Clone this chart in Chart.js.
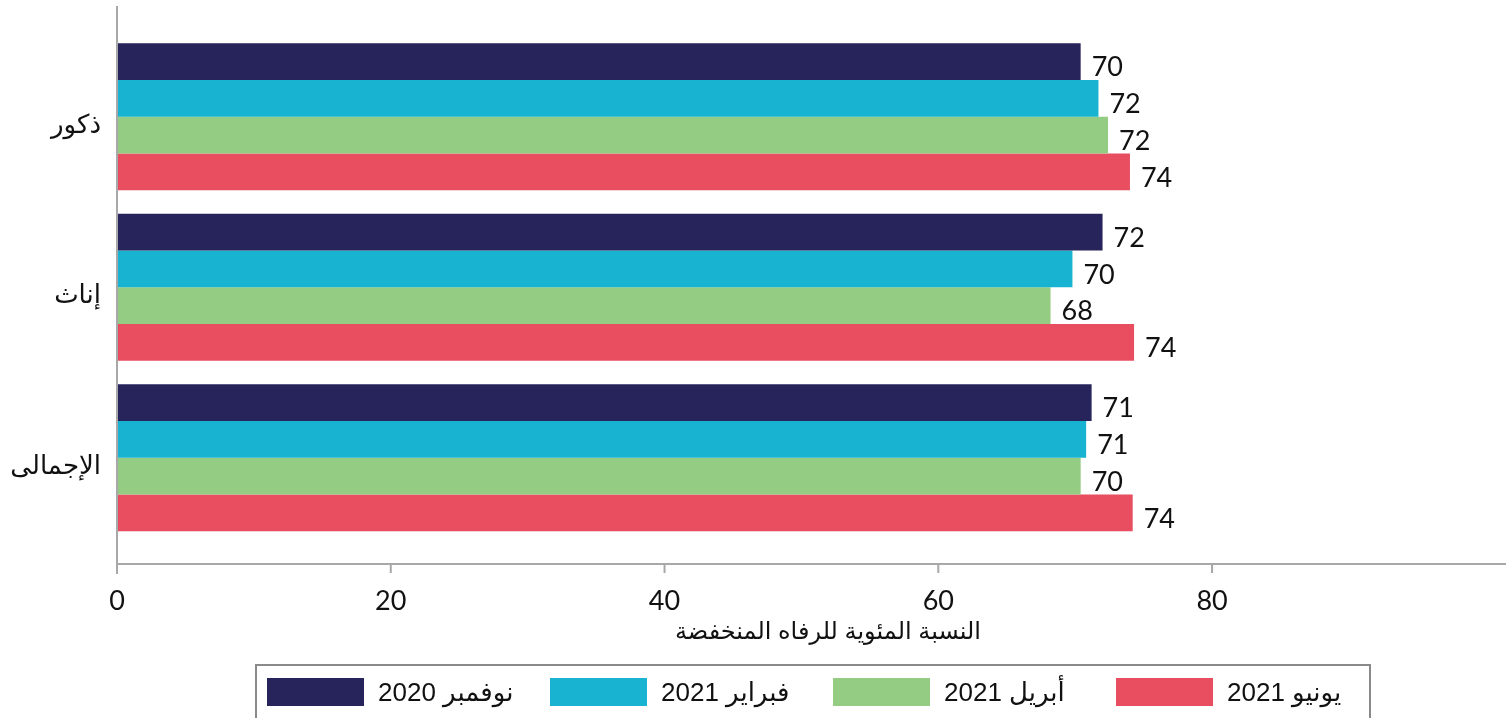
<!DOCTYPE html>
<html lang="ar">
<head>
<meta charset="utf-8">
<script src="https://cdn.jsdelivr.net/npm/chart.js@4.4.1/dist/chart.umd.min.js"></script>
<style>
  html, body { margin: 0; padding: 0; background: #fff; }
  #wrap { position: relative; width: 1506px; height: 718px; overflow: hidden; }
  #legend {
    position: absolute; left: 255px; top: 664px; width: 1116px; height: 70px;
    border: 2px solid #8a8a8a; box-sizing: border-box;
  }
  .item { position: absolute; top: 12px; height: 28px; display: flex; align-items: center; }
  .swatch { width: 97px; height: 28px; margin-right: 14px; }
  .item span { font: 26px "Liberation Sans", "DejaVu Sans", sans-serif; color: #111; white-space: nowrap; }
</style>
</head>
<body>
<div id="wrap">
  <canvas id="welfareChart" width="1506" height="718"></canvas>
  <div id="legend"></div>
</div>
<script>
// Categories (top to bottom)
const groups = ['ذكور', 'إناث', 'الإجمالى'];

// Survey rounds
const rounds = ['نوفمبر 2020', 'فبراير 2021', 'أبريل 2021', 'يونيو 2021'];
const roundColors = ['#27245b', '#17b3d0', '#93cc82', '#e84d60'];

// Percentage with low welfare, per round (ذكور, إناث, الإجمالى)
const nov2020 = [70.4, 72.0, 71.2];
const feb2021 = [71.7, 69.8, 70.8];
const apr2021 = [72.4, 68.2, 70.4];
const jun2021 = [74.0, 74.3, 74.2];

const xTicks = [0, 20, 40, 60, 80];
const axisTitle = 'النسبة المئوية للرفاه المنخفضة';

const seriesValues = [nov2020, feb2021, apr2021, jun2021];

const numFont = '27px Lato, "Open Sans", sans-serif';
const arFont = '24px "Liberation Sans", "DejaVu Sans", sans-serif';

// axis lines, tick marks, axis title and value labels
const decorations = {
  id: 'decorations',
  afterDatasetsDraw(chart) {
    const ctx = chart.ctx;
    const x = chart.scales.x;
    const area = chart.chartArea;
    const x0 = x.getPixelForValue(0);
    const axisY = area.bottom + 21;

    ctx.save();
    ctx.strokeStyle = '#a8a8a8';
    ctx.lineWidth = 2;
    ctx.beginPath();
    ctx.moveTo(x0, 6);
    ctx.lineTo(x0, axisY + 10);
    ctx.moveTo(x0, axisY);
    ctx.lineTo(area.right + 2, axisY);
    xTicks.forEach(v => {
      if (v === 0) return;
      const px = x.getPixelForValue(v);
      ctx.moveTo(px, axisY);
      ctx.lineTo(px, axisY + 9);
    });
    ctx.stroke();

    // value labels
    ctx.fillStyle = '#111';
    ctx.font = numFont;
    ctx.textAlign = 'left';
    ctx.textBaseline = 'middle';
    chart.data.datasets.forEach((ds, i) => {
      chart.getDatasetMeta(i).data.forEach((bar, j) => {
        ctx.fillText(String(Math.round(ds.data[j])), bar.x + 11, bar.y + 6);
      });
    });

    // axis title
    ctx.font = arFont;
    ctx.textAlign = 'center';
    ctx.fillText(axisTitle, 828, 632);
    ctx.restore();
  }
};

const chart = new Chart(document.getElementById('welfareChart'), {
  type: 'bar',
  data: {
    labels: groups,
    datasets: rounds.map((r, i) => ({
      label: r,
      data: seriesValues[i],
      backgroundColor: roundColors[i],
      borderWidth: 0,
      categoryPercentage: 0.862,
      barPercentage: 1
    }))
  },
  options: {
    indexAxis: 'y',
    responsive: false,
    animation: false,
    layout: { padding: { top: 26, right: 1, bottom: 0, left: 0 } },
    plugins: {
      legend: { display: false },
      tooltip: { enabled: false }
    },
    scales: {
      x: {
        min: 0,
        max: 101.4,
        grid: { display: false, drawTicks: false },
        border: { display: false },
        ticks: {
          stepSize: 20,
          padding: 42,
          maxRotation: 0,
          color: '#111',
          font: { family: 'Lato, "Open Sans", sans-serif', size: 27 }
        },
        afterBuildTicks(scale) {
          scale.ticks = xTicks.map(v => ({ value: v }));
        },
        afterFit(scale) { scale.height = 175; }
      },
      y: {
        grid: { display: false, drawTicks: false },
        border: { display: false },
        ticks: {
          padding: 16,
          labelOffset: 9,
          color: '#111',
          font: { family: '"Liberation Sans", "DejaVu Sans", sans-serif', size: 26 }
        },
        afterFit(scale) { scale.width = 117; }
      }
    }
  },
  plugins: [decorations]
});

// legend built from the same series arrays
const legend = document.getElementById('legend');
rounds.forEach((r, i) => {
  const item = document.createElement('div');
  item.className = 'item';
  item.style.left = (10 + i * 283) + 'px';
  const sw = document.createElement('div');
  sw.className = 'swatch';
  sw.style.background = roundColors[i];
  const txt = document.createElement('span');
  txt.dir = 'rtl';
  txt.textContent = r;
  item.appendChild(sw);
  item.appendChild(txt);
  legend.appendChild(item);
});
</script>
</body>
</html>
